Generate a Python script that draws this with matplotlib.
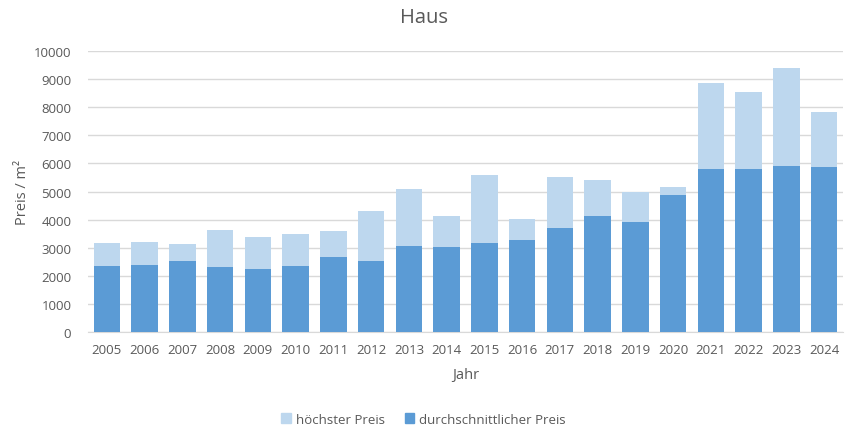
import matplotlib
matplotlib.use("Agg")
import matplotlib.pyplot as plt
from matplotlib.patches import Patch

years = [str(y) for y in range(2005, 2025)]
hoechster = [3180, 3210, 3140, 3640, 3390, 3500, 3610, 4320, 5100, 4140,
             5600, 4030, 5530, 5420, 4980, 5170, 8870, 8550, 9410, 7840]
durchschnitt = [2360, 2400, 2540, 2330, 2250, 2360, 2680, 2540, 3070, 3040,
                3180, 3290, 3710, 4140, 3930, 4890, 5810, 5810, 5920, 5880]

plt.rcParams['font.family'] = ['Open Sans', 'DejaVu Sans']
txt = '#595959'

fig = plt.figure(figsize=(8.47, 4.39), dpi=100)
ax = fig.add_axes([0.1039, 0.2415, 0.8914, 0.64])
x = list(range(len(years)))
w = 0.705
ax.bar(x, hoechster, width=w, color='#BDD7EE', zorder=2, label='höchster Preis')
ax.bar(x, durchschnitt, width=w, color='#5B9BD5', zorder=3, label='durchschnittlicher Preis')

ax.set_xlim(-0.5, len(years) - 0.5)
ax.set_ylim(0, 10000)
ax.set_yticks(range(0, 10001, 1000))
ax.set_xticks(x)
ax.set_xticklabels(years)
ax.tick_params(axis='both', length=0, labelsize=9.5, colors=txt)
ax.tick_params(axis='y', pad=12)
ax.tick_params(axis='x', pad=8)
ax.grid(axis='y', color='#D9D9D9', linewidth=1, zorder=0)
for s in ['top', 'right', 'left']:
    ax.spines[s].set_visible(False)
ax.spines['bottom'].set_color('#D9D9D9')

ax.set_xlabel('Jahr', fontsize=10.5, color=txt, labelpad=8)
ax.set_ylabel('Preis / m²', fontsize=10.5, color=txt, labelpad=3)
fig.text(0.5, 0.958, 'Haus', ha='center', va='center', fontsize=14.5, color=txt)

handles = [Patch(color='#BDD7EE'), Patch(color='#5B9BD5')]
fig.legend(handles, ['höchster Preis', 'durchschnittlicher Preis'],
           loc='center', bbox_to_anchor=(0.5, 0.043), ncol=2, frameon=False,
           fontsize=9.5, labelcolor=txt, handlelength=0.7, handleheight=0.7,
           handletextpad=0.4, columnspacing=1.5)

fig.savefig('out.png', dpi=100)
